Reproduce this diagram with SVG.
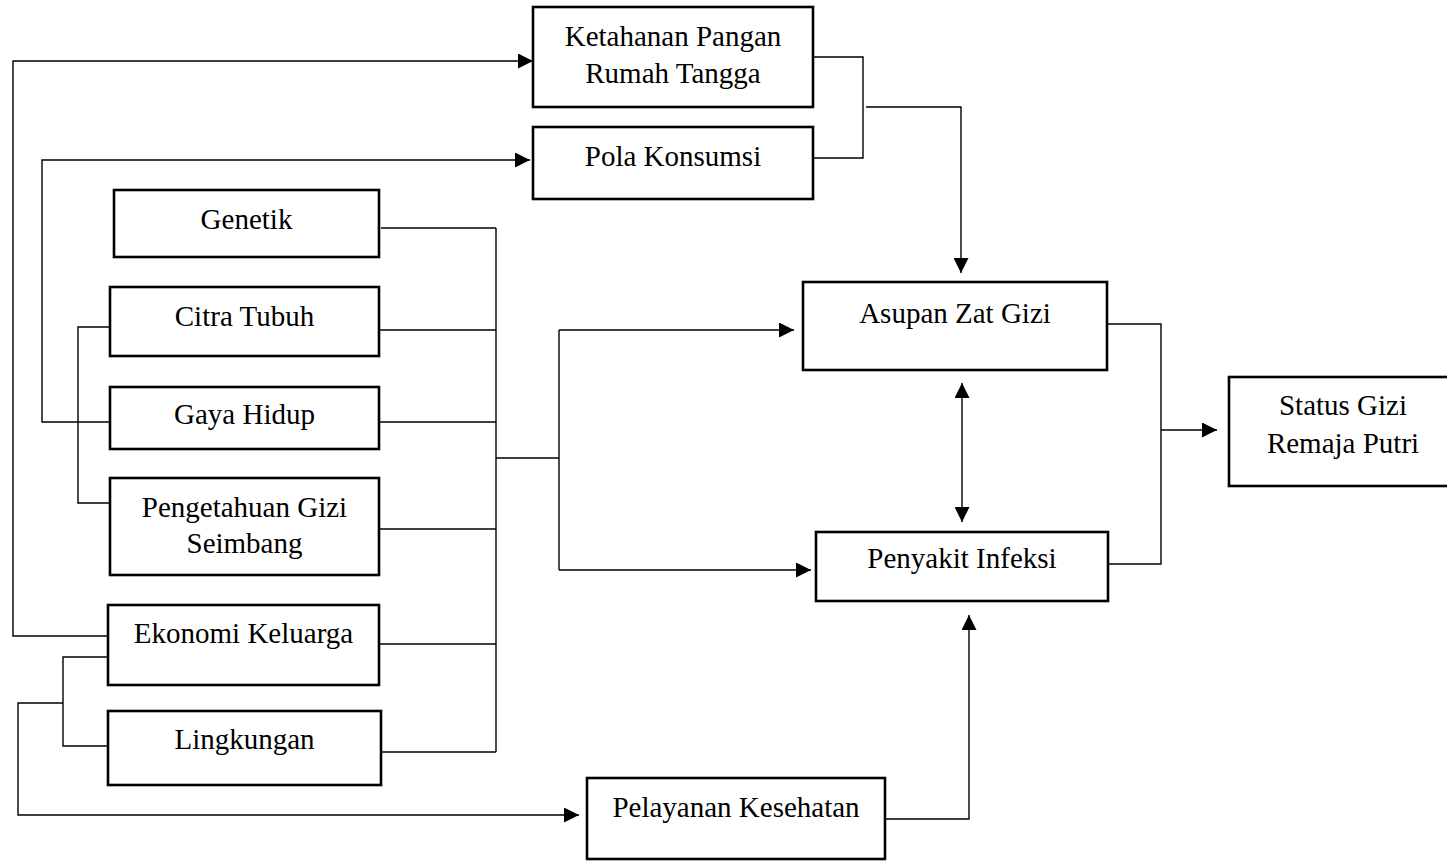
<svg xmlns="http://www.w3.org/2000/svg" width="1447" height="861" viewBox="0 0 1447 861">
<style>
.box{fill:#fff;stroke:#000;stroke-width:2.6}
.t{font-family:'Liberation Serif',serif;font-size:29px;fill:#000;text-anchor:middle}
.c{fill:none;stroke:#000;stroke-width:1.4}
.a{marker-end:url(#ah)}
</style>
<defs>
<marker id="ah" markerUnits="userSpaceOnUse" markerWidth="15" markerHeight="15" refX="15" refY="7.5" orient="auto-start-reverse">
<path d="M0,0 L15,7.5 L0,15 z" fill="#000"/>
</marker>
</defs>
<rect width="1447" height="861" fill="#fff"/>
<g id="connectors">
<path class="c a" d="M108,636 H13 V61 H533"/>
<path class="c a" d="M110,422 H42 V160 H530"/>
<path class="c" d="M110,327 H78 V503 H110"/>
<path class="c" d="M108,657 H63 V746 H108"/>
<path class="c a" d="M63,703 H18 V815 H579"/>
<path class="c" d="M381,228 H496 M379,330 H496 M379,422 H496 M379,529 H496 M379,644 H496 M381,752 H496 M496,228 V752"/>
<path class="c" d="M496,458 H559 M559,330 V570"/>
<path class="c a" d="M559,330 H794"/>
<path class="c a" d="M559,570 H811"/>
<path class="c" d="M813,57 H863 V158 H814"/>
<path class="c a" d="M866,107 H961 V273"/>
<path class="c" d="M962,383 V522" marker-start="url(#ah)" marker-end="url(#ah)"/>
<path class="c" d="M1107,324 H1161 V564 H1108"/>
<path class="c a" d="M1161,430 H1217"/>
<path class="c a" d="M886,819 H969 V615"/>
</g>
<g id="ketahanan"><rect class="box" x="533" y="7" width="280" height="100"/><text class="t" x="673" y="46" font-family="Liberation Serif, serif">Ketahanan Pangan</text><text class="t" x="673" y="83" font-family="Liberation Serif, serif">Rumah Tangga</text></g>
<g id="pola"><rect class="box" x="533" y="127" width="280" height="72"/><text class="t" x="673" y="166">Pola Konsumsi</text></g>
<g id="genetik"><rect class="box" x="114" y="190" width="265" height="67"/><text class="t" x="246.5" y="229">Genetik</text></g>
<g id="citra"><rect class="box" x="110" y="287" width="269" height="69"/><text class="t" x="244.5" y="326">Citra Tubuh</text></g>
<g id="gaya"><rect class="box" x="110" y="387" width="269" height="62"/><text class="t" x="244.5" y="424">Gaya Hidup</text></g>
<g id="pengetahuan"><rect class="box" x="110" y="478" width="269" height="97"/><text class="t" x="244.5" y="517">Pengetahuan Gizi</text><text class="t" x="244.5" y="553">Seimbang</text></g>
<g id="ekonomi"><rect class="box" x="108" y="605" width="271" height="80"/><text class="t" x="243.5" y="643">Ekonomi Keluarga</text></g>
<g id="lingkungan"><rect class="box" x="108" y="711" width="273" height="74"/><text class="t" x="244.5" y="749">Lingkungan</text></g>
<g id="pelayanan"><rect class="box" x="587" y="778" width="298" height="81"/><text class="t" x="736" y="817">Pelayanan Kesehatan</text></g>
<g id="asupan"><rect class="box" x="803" y="282" width="304" height="88"/><text class="t" x="955" y="323">Asupan Zat Gizi</text></g>
<g id="penyakit"><rect class="box" x="816" y="532" width="292" height="69"/><text class="t" x="962" y="568">Penyakit Infeksi</text></g>
<g id="status"><rect class="box" x="1229" y="377" width="229" height="109"/><text class="t" x="1343" y="415">Status Gizi</text><text class="t" x="1343" y="453">Remaja Putri</text></g>
</svg>
